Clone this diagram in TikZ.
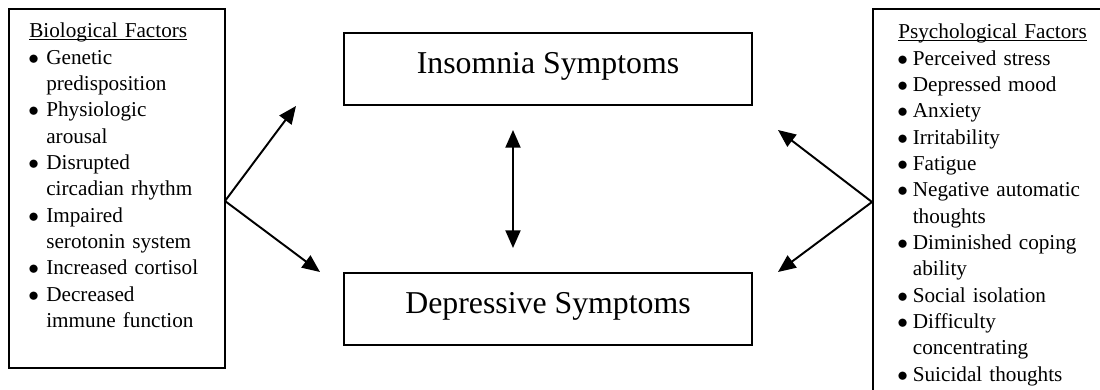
\documentclass[tikz,border=0pt]{standalone}
\usepackage{fontspec}
\setmainfont{Liberation Serif}
\usepackage{tikz}
\usetikzlibrary{positioning,arrows.meta}
\newlength{\bulletgap}
\newcommand{\hdr}[1]{\setbox0\hbox{#1}\rlap{\rule[-1.4pt]{\wd0}{0.6pt}}\box0}
\newcommand{\itm}[1]{\makebox[\bulletgap][l]{\hspace{-0.6pt}$\bullet$}#1}
\newcommand{\cnt}[1]{\hspace*{\bulletgap}#1}

\begin{document}
\begin{tikzpicture}[x=0.566pt, y=-0.566pt,
    frame/.style={draw, line width=1.1pt, inner sep=0pt},
    sympbox/.style={frame, minimum width=230.9pt, minimum height=40.75pt,
                    text height=12.2pt, text depth=7.2pt,
                    font=\fontsize{18pt}{22pt}\selectfont},
    factorbox/.style={frame},
    factortext/.style={inner sep=0pt, align=left, anchor=base west,
                       font=\fontsize{12pt}{14.9pt}\selectfont},
    arr/.style={-{Triangle[length=10pt, width=8.5pt]}, line width=1.1pt},
    dblarr/.style={arr, {Triangle[length=10pt, width=8.5pt]}-{Triangle[length=10pt, width=8.5pt]}}]
    \path[use as bounding box, clip] (0,0) rectangle (1100,390);
    % the two symptom boxes
    \node[sympbox] (ins) at (548,69)  {Insomnia Symptoms};
    \node[sympbox] (dep) at (548,309) {Depressive Symptoms};
    % factor boxes
    \node[factorbox, minimum width=122.3pt, minimum height=203.2pt] (bio) at (117,188.5) {};
    \node[factorbox, minimum width=134.1pt, minimum height=221.3pt] (psy) at (991.5,204.5) {};
    \node[factortext, text width=107pt] (biotext) at (29,38) {%
        \setlength{\bulletgap}{9.6pt}%
        \hdr{Biological Factors}\\
        \itm{Genetic}\\
        \cnt{predisposition}\\
        \itm{Physiologic}\\
        \cnt{arousal}\\
        \itm{Disrupted}\\
        \cnt{circadian rhythm}\\
        \itm{Impaired}\\
        \cnt{serotonin system}\\
        \itm{Increased cortisol}\\
        \itm{Decreased}\\
        \cnt{immune function}};
    \node[factortext, text width=118pt] (psytext) at (898,39) {%
        \setlength{\bulletgap}{8.2pt}%
        \hdr{Psychological Factors}\\
        \itm{Perceived stress}\\
        \itm{Depressed mood}\\
        \itm{Anxiety}\\
        \itm{Irritability}\\
        \itm{Fatigue}\\
        \itm{Negative automatic}\\
        \cnt{thoughts}\\
        \itm{Diminished coping}\\
        \cnt{ability}\\
        \itm{Social isolation}\\
        \itm{Difficulty}\\
        \cnt{concentrating}\\
        \itm{Suicidal thoughts}};
    % arrow ends
    \coordinate (bioout) at (225,201);
    \coordinate (psyout) at (872,202);
    \coordinate (bioins) at (296,106);
    \coordinate (biodep) at (320,272);
    \coordinate (psyins) at (778,130);
    \coordinate (psydep) at (778,272);
    \coordinate (midtop) at (513,130);
    \coordinate (midbot) at (513,248);
    \draw[arr] (bioout) -- (bioins);
    \draw[arr] (bioout) -- (biodep);
    \draw[arr] (psyout) -- (psyins);
    \draw[arr] (psyout) -- (psydep);
    \draw[dblarr] (midtop) -- (midbot);
\end{tikzpicture}
\end{document}
